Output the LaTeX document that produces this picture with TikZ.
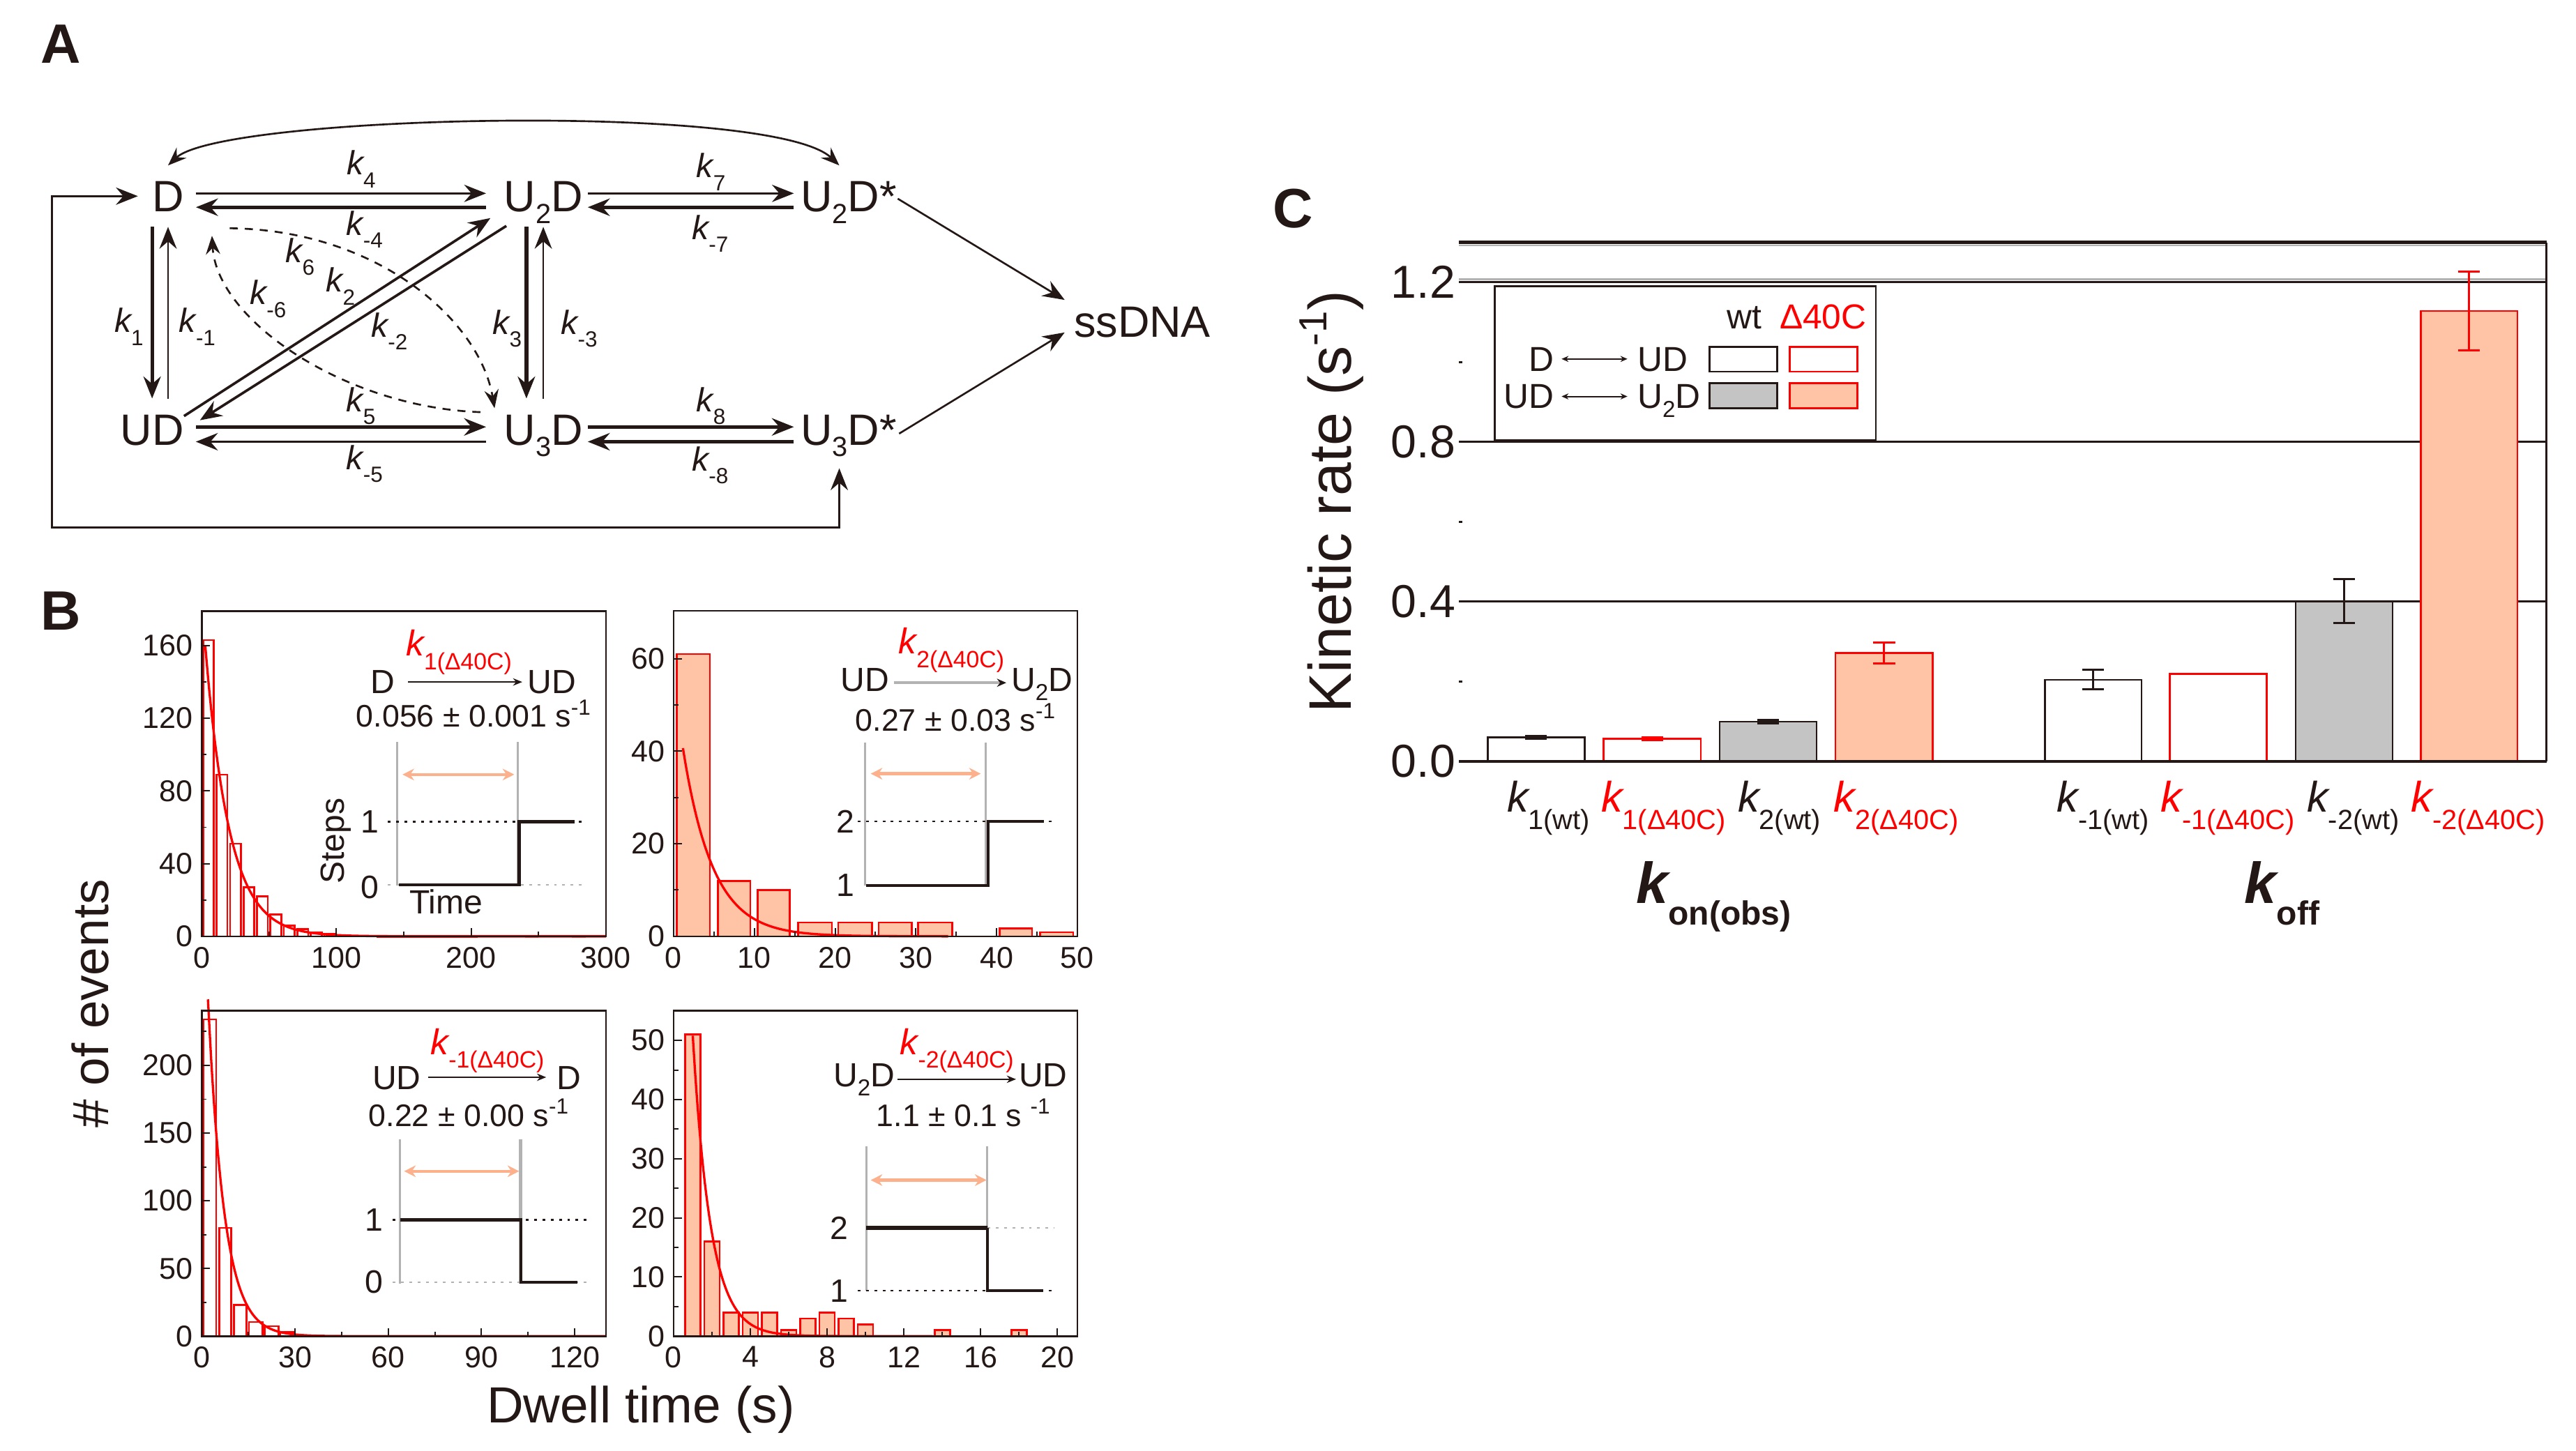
\documentclass[tikz,border=0pt]{standalone}
\usepackage{fontspec}
\setmainfont{Liberation Sans}
\usetikzlibrary{arrows.meta,calc}
\definecolor{ink}{RGB}{35,24,21}
\definecolor{myred}{RGB}{255,0,0}
\definecolor{salmon}{RGB}{255,195,165}
\definecolor{bargray}{RGB}{196,196,196}
\definecolor{peach}{RGB}{252,176,140}
\definecolor{lgray}{RGB}{178,178,178}
\newcommand{\fs}[1]{\fontsize{#1}{#1}\selectfont}
\newcommand{\lo}[3]{\raisebox{-#1}{\fs{#2}#3}}
\newcommand{\sbs}[1]{\raisebox{-5pt}{\fs{12}#1}}
\newcommand{\kk}[4]{{\fs{#1}\itshape k}\raisebox{-#3}{\fs{#2}#4}}
\newcommand{\expo}[2]{\raisebox{0.4em}{\fs{#1}#2}}
\tikzset{
  myhead/.tip={Stealth[length=9.5pt,width=7.5pt,inset=3.2pt]},
  smhead/.tip={Stealth[length=8pt,width=6.2pt,inset=2.8pt]},
  athin/.style={line width=0.8pt,-myhead},
  amid/.style={line width=1.1pt,-myhead},
  athick/.style={line width=1.6pt,-myhead},
  adash/.style={line width=0.8pt,dash pattern=on 3.5pt off 3pt,-smhead},
  state/.style={font=\fs{19}, inner xsep=5pt, inner ysep=6.3pt, text height=13.6pt, text depth=0pt},
  lab/.style={inner sep=0pt, anchor=base west},
  plab/.style={font=\fs{24}\bfseries, inner sep=0pt},
  tkl/.style={font=\fs{13}, inner sep=0pt},
  axisbox/.style={line width=0.75pt},
  hbarO/.style={draw=myred, line width=0.8pt},
  hbarF/.style={draw=myred, fill=salmon, line width=0.8pt},
  fit/.style={myred, line width=1pt, smooth},
  gline/.style={lgray, line width=1pt},
  oarr/.style={peach, line width=1.3pt, {Stealth[length=5pt,width=5pt]}-{Stealth[length=5pt,width=5pt]}},
  dotl/.style={line width=0.7pt, dash pattern=on 1.2pt off 2.4pt},
  stepl/.style={line width=1.3pt},
  stl/.style={font=\fs{14}, inner sep=0pt},
  val/.style={font=\fs{13.5}, anchor=base, inner sep=0pt},
  insarr/.style={line width=0.7pt, -{Stealth[length=4pt,width=3.2pt]}},
  insarrg/.style={lgray, line width=1.3pt, -{Stealth[length=4pt,width=3.5pt,color=ink]}},
  cbW/.style={draw=ink, fill=white, line width=0.8pt},
  cbWR/.style={draw=myred, fill=white, line width=0.8pt},
  cbG/.style={draw=ink, fill=bargray, line width=0.8pt},
  cbS/.style={draw=myred, fill=salmon, line width=0.8pt},
  eb/.style={ink, line width=0.9pt},
  ebR/.style={myred, line width=0.9pt},
  legarr/.style={line width=0.6pt, {Stealth[length=3pt,width=2.6pt]}-{Stealth[length=3pt,width=2.6pt]}},
}
\begin{document}
\begin{tikzpicture}[x=0.025cm, y=-0.025cm, color=ink, text=ink]
\useasboundingbox (0,0) rectangle (1568,883);
\fill[white] (0,0) rectangle (1568,883);

%% ================= Panel A =================
\node[plab] (pA) at (37,27) {A};
\node[state] (D) at (102.3,119.4) {D};
\node[state] (U2D) at (330.7,119.4) {U\sbs{2}D};
\node[state] (U2Ds) at (516.5,119.4) {U\sbs{2}D*};
\node[state] (UD) at (92.6,261.3) {UD};
\node[state] (U3D) at (330.7,261.3) {U\sbs{3}D};
\node[state] (U3Ds) at (516.5,261.3) {U\sbs{3}D*};
\node[state] (ss) at (695.3,195.5) {ssDNA};

% horizontal pairs
\draw[athin] ([yshift=1.2pt]D.east) -- ([xshift=-2.5pt,yshift=1.2pt]U2D.west);
\draw[athick] ([xshift=-2.5pt,yshift=-4.8pt]U2D.west) -- ([yshift=-4.8pt]D.east);
\draw[athin] ([xshift=-3pt,yshift=1.2pt]U2D.east) -- ([xshift=2.3pt,yshift=1.2pt]U2Ds.west);
\draw[athick] ([xshift=2.3pt,yshift=-4.8pt]U2Ds.west) -- ([xshift=-3pt,yshift=-4.8pt]U2D.east);
\draw[athick] ([yshift=1pt]UD.east) -- ([xshift=-2.5pt,yshift=1pt]U3D.west);
\draw[amid] ([xshift=-2.5pt,yshift=-5.4pt]U3D.west) -- ([yshift=-5.4pt]UD.east);
\draw[athick] ([xshift=-3pt,yshift=1pt]U3D.east) -- ([xshift=2.3pt,yshift=1pt]U3Ds.west);
\draw[athick] ([xshift=2.3pt,yshift=-5.4pt]U3Ds.west) -- ([xshift=-3pt,yshift=-5.4pt]U3D.east);
% vertical pairs
\draw[athick] (D.south -| UD.north) -- (UD.north);
\draw[athin] (UD.north -| D.south) -- (D.south);
\draw[athick] ([xshift=-7.3pt]U2D.south) -- ([xshift=-7.3pt]U3D.north);
\draw[athin] (U3D.north) -- (U2D.south);
% diagonals
\draw[amid] ([xshift=13.8pt,yshift=5.7pt]UD.center) -- ([xshift=-22.9pt,yshift=-9.5pt]U2D.center);
\draw[amid] ([xshift=-16pt,yshift=-12.9pt]U2D.center) -- ([xshift=20.7pt,yshift=3.9pt]UD.center);
% dashed curves
\draw[adash] ([xshift=26.7pt,yshift=-13.9pt]D.center) .. controls (230,140) and (292,195) .. ([xshift=-21.1pt,yshift=9.1pt]U3D.center);
\draw[adash] ([xshift=-27.2pt,yshift=7.4pt]U3D.center) .. controls (210,248) and (132,195) .. ([xshift=19pt,yshift=-17.2pt]D.center);
% top arc
\draw[line width=0.8pt, smhead-smhead] (D.north) .. controls (135,70) and (470,62) .. ([xshift=-4pt]U2Ds.north);
% to ssDNA
\draw[athin] ([xshift=21.3pt,yshift=-1.1pt]U2Ds.center) -- ([xshift=-33.6pt,yshift=9.2pt]ss.center);
\draw[athin] ([xshift=21.9pt,yshift=-1.9pt]U3Ds.center) -- ([xshift=-33.6pt,yshift=-4.9pt]ss.center);
% feedback loop
\coordinate (fb) at (31.7,321.2);
\draw[line width=0.8pt, myhead-myhead] ([xshift=-1pt]D.west) -| (fb) -| ([xshift=-4pt,yshift=-3.6pt]U3Ds.south);
% rate labels
\node[lab] (lk4) at (210.7,106.5) {\kk{14.5}{9.5}{5.5pt}{4}};
\node[lab] (lkm4) at (210.6,143.1) {\kk{14.5}{9.5}{5.5pt}{-4}};
\node[lab] (lk7) at (423.7,108.2) {\kk{14.5}{9.5}{5.5pt}{7}};
\node[lab] (lkm7) at (420.9,145.6) {\kk{14.5}{9.5}{5.5pt}{-7}};
\node[lab] (lk5) at (210.6,250.7) {\kk{14.5}{9.5}{5.5pt}{5}};
\node[lab] (lkm5) at (210.6,285.8) {\kk{14.5}{9.5}{5.5pt}{-5}};
\node[lab] (lk8) at (423.7,250.7) {\kk{14.5}{9.5}{5.5pt}{8}};
\node[lab] (lkm8) at (420.9,286.7) {\kk{14.5}{9.5}{5.5pt}{-8}};
\node[lab] (lk1) at (69.4,202.4) {\kk{14.5}{9.5}{5.5pt}{1}};
\node[lab] (lkm1) at (108.8,202.4) {\kk{14.5}{9.5}{5.5pt}{-1}};
\node[lab] (lk3) at (299.6,203.4) {\kk{14.5}{9.5}{5.5pt}{3}};
\node[lab] (lkm3) at (341.3,203.4) {\kk{14.5}{9.5}{5.5pt}{-3}};
\node[lab] (lk2) at (198.2,177.8) {\kk{14.5}{9.5}{5.5pt}{2}};
\node[lab] (lkm2) at (225.7,205.3) {\kk{14.5}{9.5}{5.5pt}{-2}};
\node[lab] (lk6) at (173.6,159.8) {\kk{14.5}{9.5}{5.5pt}{6}};
\node[lab] (lkm6) at (151.8,185.4) {\kk{14.5}{9.5}{5.5pt}{-6}};

%% ================= Panel B =================
\node[plab] (pB) at (37,372) {B};
\node[rotate=90, font=\fs{22}] (byl) at (55,611) {\# of events};
\node[font=\fs{22}] (bxl) at (390,858) {Dwell time (s)};

% ---- B1 ----
\begin{scope}[shift={(122.8,570)}, x=0.020488cm, y=0.027656cm]
  \foreach \a/\b/\h in {1/9/163,11/19/89,21/29/51,31/39/27,41/49/22,51/59/12,61/69/6,71/79/4,81/89/2.2,91/99/1.2,101/109/0.6}
    \draw[hbarO] (\a,0) rectangle (\b,\h);
  \draw[myred, line width=1.3pt] (130,0) -- (205,0);
  \draw[myred!50, line width=1.3pt] (240,0) -- (250,0) (275,0) -- (285,0);
  \draw[fit, domain=2.6:300, samples=120] plot (\x,{185*exp(-0.056*\x)});
  \draw[axisbox] (0,0) rectangle (300,179);
  \foreach \v in {40,80,120,160} \draw[line width=0.6pt] (0,\v) -- ++(3.5pt,0);
  \foreach \v in {20,60,100,140} \draw[line width=0.6pt] (0,\v) -- ++(2pt,0);
  \foreach \v in {100,200} \draw[line width=0.6pt] (\v,0) -- ++(0,3.5pt);
  \foreach \v in {50,150,250} \draw[line width=0.6pt] (\v,0) -- ++(0,2pt);
  \foreach \v in {0,40,80,120,160} \node[tkl, anchor=east, xshift=-3.6pt] (b1y\v) at (0,\v) {\v};
  \foreach \v in {0,100,200,300} \node[tkl, anchor=north, yshift=-4.5pt] (b1x\v) at (\v,0) {\v};
\end{scope}
\node[lab, text=myred] (b1k) at (246.9,399.4) {\kk{15.5}{10.2}{6pt}{1(Δ40C)}};
\node[lab, font=\fs{14.5}] (b1D) at (225.5,422.2) {D};
\node[lab, font=\fs{14.5}] (b1UD) at (321,422.2) {UD};
\draw[insarr] ([xshift=5.5pt,yshift=5pt]b1D.base east) -- ([xshift=-2.2pt,yshift=5pt]b1UD.base west);
\node[val] (b1v) at (288.2,442.7) {0.056 ± 0.001 s\expo{9.5}{-1}};
\draw[gline] (241.6,451.7) -- (241.6,539);
\draw[gline] (315.2,451.7) -- (315.2,539);
\draw[oarr] (245,471.5) -- (313,471.5);
\draw[dotl] (236,500.2) -- (356,500.2);
\draw[dotl, lgray] (236,538.6) -- (356,538.6);
\draw[stepl] (243,538.6) -- (316,538.6) -- (316,500.2) -- (349.8,500.2);
\node[stl] (b1n1) at (225,500.2) {1};
\node[stl] (b1n0) at (225,540) {0};
\node[rotate=90, font=\fs{14.5}] (b1st) at (204.6,512) {Steps};
\node[font=\fs{14.5}] (b1t) at (271.6,548.8) {Time};

% ---- B2 ----
\begin{scope}[shift={(410,570)}, x=0.12285cm, y=0.070417cm]
  \foreach \a/\b/\h in {0.4/4.5/61,5.5/9.5/12,10.4/14.4/10,15.4/19.6/3,20.4/24.6/3,25.4/29.5/3,30.3/34.5/3,40.4/44.4/1.7,45.4/49.5/0.9}
    \draw[hbarF] (\a,0) rectangle (\b,\h);
  \draw[fit, domain=1.16:34, samples=100] plot (\x,{55.6*exp(-0.27*\x)});
  \draw[axisbox] (0,0) rectangle (50,70.3);
  \foreach \v in {20,40,60} \draw[line width=0.6pt] (0,\v) -- ++(3.5pt,0);
  \foreach \v in {10,30,50} \draw[line width=0.6pt] (0,\v) -- ++(2pt,0);
  \foreach \v in {10,20,30,40} \draw[line width=0.6pt] (\v,0) -- ++(0,3.5pt);
  \foreach \v in {5,15,25,35,45} \draw[line width=0.6pt] (\v,0) -- ++(0,2pt);
  \foreach \v in {0,20,40,60} \node[tkl, anchor=east, xshift=-3.6pt] (b2y\v) at (0,\v) {\v};
  \foreach \v in {0,10,20,30,40,50} \node[tkl, anchor=north, yshift=-4.5pt] (b2x\v) at (\v,0) {\v};
\end{scope}
\node[lab, text=myred] (b2k) at (546.7,397.9) {\kk{15.5}{10.2}{6pt}{2(Δ40C)}};
\node[lab, font=\fs{14.5}] (b2UD) at (511.5,420.7) {UD};
\node[lab, font=\fs{14.5}] (b2U2D) at (615.3,420.7) {U\lo{4pt}{10}{2}D};
\draw[insarrg] ([xshift=1.8pt,yshift=3.6pt]b2UD.base east) -- ([xshift=-2pt,yshift=3.6pt]b2U2D.base west);
\node[val] (b2v) at (581.5,444.9) {0.27 ± 0.03 s\expo{9.5}{-1}};
\draw[gline] (526.5,452) -- (526.5,539);
\draw[gline] (600,452) -- (600,539);
\draw[oarr] (530,471) -- (597,471);
\draw[dotl] (522,500) -- (641,500);
\draw[stepl] (527.4,539) -- (601.4,539) -- (601.4,500) -- (635.4,500);
\node[stl] (b2n2) at (514.5,500) {2};
\node[stl] (b2n1) at (514.5,539) {1};

% ---- B3 ----
\begin{scope}[shift={(122.8,813.4)}, x=0.047292cm, y=0.0206cm]
  \foreach \a/\b/\h in {0.5/4.65/234,5.6/9.5/80,10.4/14.4/23,15.2/19.5/10.5,20.2/24.7/7.4,25.1/29.8/3.1}
    \draw[hbarO] (\a,0) rectangle (\b,\h);
  \draw[fit, domain=2.0:130, samples=120] plot (\x,{235*exp(-0.19*(\x-2.3))});
  \draw[axisbox] (0,0) rectangle (130,240.4);
  \foreach \v in {50,100,150,200} \draw[line width=0.6pt] (0,\v) -- ++(3.5pt,0);
  \foreach \v in {25,75,125,175,225} \draw[line width=0.6pt] (0,\v) -- ++(2pt,0);
  \foreach \v in {30,60,90,120} \draw[line width=0.6pt] (\v,0) -- ++(0,3.5pt);
  \foreach \v in {15,45,75,105} \draw[line width=0.6pt] (\v,0) -- ++(0,2pt);
  \foreach \v in {0,50,100,150,200} \node[tkl, anchor=east, xshift=-3.6pt] (b3y\v) at (0,\v) {\v};
  \foreach \v in {0,30,60,90,120} \node[tkl, anchor=north, yshift=-4.3pt] (b3x\v) at (\v,0) {\v};
\end{scope}
\node[lab, text=myred] (b3k) at (261.9,641.8) {\kk{15.5}{10.2}{6pt}{-1(Δ40C)}};
\node[lab, font=\fs{14.5}] (b3UD) at (226.4,663.1) {UD};
\node[lab, font=\fs{14.5}] (b3D) at (338.8,663.1) {D};
\draw[insarr] ([xshift=3.1pt,yshift=5.2pt]b3UD.base east) -- ([xshift=-4.5pt,yshift=5.2pt]b3D.base west);
\node[val] (b3v) at (285.2,685.8) {0.22 ± 0.00 s\expo{9.5}{-1}};
\draw[gline] (243.4,693.4) -- (243.4,781.3);
\draw[gline, line width=1.4pt] (317,693.4) -- (317,781.3);
\draw[oarr] (246,713) -- (316,713);
\draw[dotl] (239,742.6) -- (357,742.6);
\draw[dotl, lgray] (239,780.6) -- (357,780.6);
\draw[stepl] (243.8,742.6) -- (317,742.6) -- (317,780.6) -- (351.5,780.6);
\node[stl] (b3n1) at (227.5,742.6) {1};
\node[stl] (b3n0) at (227.5,780.6) {0};

% ---- B4 ----
\begin{scope}[shift={(410,813.4)}, x=0.292cm, y=0.09cm]
  \foreach \c/\h in {1/51,2/16,3/4,4/4,5/4,6/1,7/3,8/4,9/3,10/2,14/1,18/1}
    \draw[hbarF] (\c-0.4,0) rectangle (\c+0.4,\h);
  \draw[fit, domain=1:13.5, samples=100] plot (\x,{50.8*exp(-1.07*(\x-1))});
  \draw[axisbox] (0,0) rectangle (21.04,55.03);
  \foreach \v in {10,20,30,40,50} \draw[line width=0.6pt] (0,\v) -- ++(3.5pt,0);
  \foreach \v in {5,15,25,35,45} \draw[line width=0.6pt] (0,\v) -- ++(2pt,0);
  \foreach \v in {4,8,12,16,20} \draw[line width=0.6pt] (\v,0) -- ++(0,3.5pt);
  \foreach \v in {2,6,10,14,18} \draw[line width=0.6pt] (\v,0) -- ++(0,2pt);
  \foreach \v in {0,10,20,30,40,50} \node[tkl, anchor=east, xshift=-3.6pt] (b4y\v) at (0,\v) {\v};
  \foreach \v in {0,4,8,12,16,20} \node[tkl, anchor=north, yshift=-4.3pt] (b4x\v) at (\v,0) {\v};
\end{scope}
\node[lab, text=myred] (b4k) at (547.7,641.8) {\kk{15.5}{10.2}{6pt}{-2(Δ40C)}};
\node[lab, font=\fs{14.5}] (b4U2D) at (507,661.5) {U\lo{4pt}{10}{2}D};
\node[lab, font=\fs{14.5}] (b4UD) at (620,661.5) {UD};
\draw[insarr] ([xshift=1pt,yshift=3.2pt]b4U2D.base east) -- ([xshift=-1.1pt,yshift=3.2pt]b4UD.base west);
\node[val] (b4v) at (586.3,685.8) {1.1 ± 0.1 s \expo{9.5}{-1}};
\draw[gline] (527.4,697.9) -- (527.4,785.8);
\draw[gline] (600.7,697.9) -- (600.7,785.8);
\draw[oarr] (530,718.4) -- (600.5,718.4);
\draw[dotl] (522,785.8) -- (642,785.8);
\draw[dotl, lgray] (601,747.6) -- (642,747.6);
\draw[stepl, line width=1.8pt] (527.4,747.6) -- (601,747.6);
\draw[stepl] (601,747.6) -- (601,785.8) -- (635,785.8);
\node[stl] (b4n2) at (510.9,747.6) {2};
\node[stl] (b4n1) at (510.9,785.8) {1};

%% ================= Panel C =================
\node[plab] (pC) at (787,127) {C};
\node[rotate=90, font=\fs{26}] (cyl) at (810.5,305.6) {Kinetic rate (s\expo{17}{-1})};
\begin{scope}[shift={(888,463.5)}, y=6.075cm]
  \draw[line width=1.4pt] (0,1.3) -- (662,1.3);
  \draw[gray!60, line width=0.8pt] (0,1.292) -- (662,1.292);
  \draw[gray!60, line width=0.8pt] (0,1.207) -- (662,1.207);
  \draw[line width=0.9pt] (0,1.2) -- (662,1.2);
  \draw[line width=0.9pt] (0,0.8) -- (662,0.8);
  \draw[line width=0.9pt] (0,0.4) -- (662,0.4);
  \draw[line width=0.8pt] (662,0) -- (662,1.3);
  \foreach \v in {0.2,0.6,1.0} \draw[line width=0.8pt] (0,\v) -- ++(1.5pt,0);
  % bars
  \draw[cbW]  (17.5,0) rectangle (76.6,0.0605);
  \draw[cbWR] (88,0) rectangle (147.3,0.0568);
  \draw[cbG]  (158.7,0) rectangle (217.8,0.0996);
  \draw[cbS]  (229.2,0) rectangle (288.5,0.271);
  \draw[cbW]  (356.8,0) rectangle (415.6,0.2045);
  \draw[cbWR] (432.8,0) rectangle (491.6,0.219);
  \draw[cbG]  (509.3,0) rectangle (568.3,0.4);
  \draw[cbS]  (585.5,0) rectangle (644.3,1.128);
  % error bars
  \draw[ink, line width=2pt] (40.5,0.0605) -- (53.6,0.0605);
  \draw[myred, line width=2pt] (111,0.0568) -- (124.2,0.0568);
  \draw[ink, line width=2.2pt] (181.6,0.0996) -- (194.8,0.0996);
  \draw[ebR] (258.85,0.245) -- (258.85,0.297) (252.2,0.245) -- (265.5,0.245) (252.2,0.297) -- (265.5,0.297);
  \draw[eb] (386.2,0.18) -- (386.2,0.229) (379.6,0.18) -- (392.8,0.18) (379.6,0.229) -- (392.8,0.229);
  \draw[eb] (538.8,0.346) -- (538.8,0.457) (532.2,0.346) -- (545.4,0.346) (532.2,0.457) -- (545.4,0.457);
  \draw[ebR] (614.9,1.03) -- (614.9,1.227) (608.3,1.03) -- (621.5,1.03) (608.3,1.227) -- (621.5,1.227);
  \draw[line width=1.3pt] (0,0) -- (662,0);
  \foreach \v/\n in {0.0/0,0.4/1,0.8/2,1.2/3} \node[anchor=east, font=\fs{20}, inner sep=0pt, xshift=-1.3pt] (cyt\n) at (0,\v) {\v};
\end{scope}
% legend
\draw[fill=white, line width=0.8pt] (909.9,174.2) rectangle (1141.8,267.8);
\node[font=\fs{15}, anchor=base, inner sep=0pt] (lgwt) at (1061.9,200.1) {wt};
\node[font=\fs{15}, anchor=base, inner sep=0pt, text=myred] (lgmut) at (1109.7,200.1) {Δ40C};
\node[font=\fs{15}, anchor=base east, inner sep=0pt] (lgD) at (946.3,226.1) {D};
\node[font=\fs{15}, anchor=base west, inner sep=0pt] (lgUD) at (996.5,226.1) {UD};
\draw[legarr] ([xshift=3pt,yshift=5.4pt]lgD.base east) -- ([xshift=-4.2pt,yshift=5.4pt]lgUD.base west);
\node[font=\fs{15}, anchor=base east, inner sep=0pt] (lgUDb) at (946.3,248.5) {UD};
\node[font=\fs{15}, anchor=base west, inner sep=0pt] (lgU2D) at (996.5,248.5) {U\lo{4pt}{10}{2}D};
\draw[legarr] ([xshift=3pt,yshift=5.1pt]lgUDb.base east) -- ([xshift=-4.2pt,yshift=5.1pt]lgU2D.base west);
\draw[cbW] (1040.6,211.1) rectangle (1081.7,226.3);
\draw[cbWR] (1089.3,211.1) rectangle (1130.5,226.3);
\draw[cbG] (1040.6,233.3) rectangle (1081.7,248.5);
\draw[cbS] (1089.3,233.3) rectangle (1130.5,248.5);
% x labels
\node[lab] (cx1) at (917,494.2) {\kk{18.5}{12}{7.5pt}{1(wt)}};
\node[lab, text=myred] (cx2) at (974.4,494.2) {\kk{18.5}{12}{7.5pt}{1(Δ40C)}};
\node[lab] (cx3) at (1057.6,494.2) {\kk{18.5}{12}{7.5pt}{2(wt)}};
\node[lab, text=myred] (cx4) at (1116,494.2) {\kk{18.5}{12}{7.5pt}{2(Δ40C)}};
\node[lab] (cx5) at (1251.8,494.2) {\kk{18.5}{12}{7.5pt}{-1(wt)}};
\node[lab, text=myred] (cx6) at (1315,494.2) {\kk{18.5}{12}{7.5pt}{-1(Δ40C)}};
\node[lab] (cx7) at (1404,494.2) {\kk{18.5}{12}{7.5pt}{-2(wt)}};
\node[lab, text=myred] (cx8) at (1467.4,494.2) {\kk{18.5}{12}{7.5pt}{-2(Δ40C)}};
\node[lab] (kon) at (995.7,549.8) {{\fs{25}\bfseries\itshape k}\raisebox{-9.3pt}{\fs{14.5}\bfseries on(obs)}};
\node[lab] (koff) at (1366,549.8) {{\fs{25}\bfseries\itshape k}\raisebox{-9.3pt}{\fs{14.5}\bfseries off}};
\end{tikzpicture}
\end{document}
